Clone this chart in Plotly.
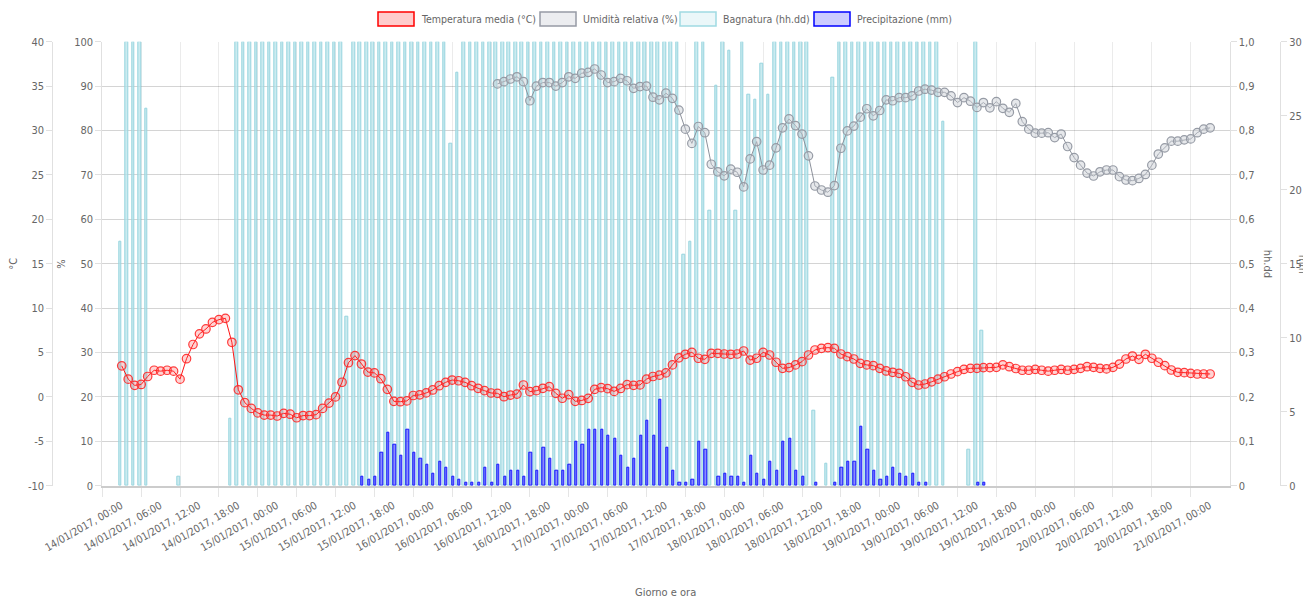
import plotly.graph_objects as go
import pandas as pd

# ---------------- data ----------------
start_time = "2017-01-14 03:00"
n_points = 169
times = pd.date_range(start_time, periods=n_points, freq="h")

tick_times = pd.date_range("2017-01-14 00:00", "2017-01-21 00:00", freq="6h")
tick_labels = [t.strftime("%d/%m/%Y, %H:%M") for t in tick_times]

temperatura = [
    3.5, 2.0, 1.3, 1.4, 2.3, 3.0, 2.9, 3.0, 2.9, 2.0,
    4.3, 5.9, 7.1, 7.65, 8.4, 8.7, 8.85, 6.15, 0.8, -0.65,
    -1.3, -1.8, -2.05, -2.05, -2.15, -1.85, -1.95, -2.35, -2.1, -2.1,
    -2.0, -1.3, -0.7, 0.0, 1.65, 3.85, 4.65, 3.7, 2.8, 2.7,
    2.05, 0.85, -0.5, -0.54, -0.45, 0.16, 0.23, 0.45, 0.78, 1.26,
    1.64, 1.9, 1.82, 1.64, 1.26, 0.97, 0.7, 0.44, 0.4, 0.02,
    0.21, 0.32, 1.34, 0.59, 0.7, 0.97, 1.15, 0.4, -0.15, 0.25,
    -0.5, -0.4, -0.16, 0.85, 1.04, 0.93, 0.62, 0.95, 1.38, 1.3,
    1.35, 2.0, 2.3, 2.45, 2.7, 3.6, 4.4, 4.8, 5.02, 4.35,
    4.23, 4.91, 4.91, 4.83, 4.8, 4.83, 5.17, 4.15, 4.35, 5.02,
    4.72, 3.9, 3.22, 3.3, 3.6, 3.97, 4.72, 5.28, 5.47, 5.55,
    5.47, 4.83, 4.53, 4.27, 3.78, 3.6, 3.52, 3.22, 2.92, 2.77,
    2.65, 2.27, 1.64, 1.34, 1.45, 1.7, 2.0, 2.27, 2.58, 2.84,
    3.1, 3.22, 3.22, 3.3, 3.3, 3.33, 3.6, 3.4, 3.2, 3.0,
    3.0, 3.1, 3.0, 2.9, 3.0, 3.1, 3.0, 3.1, 3.22, 3.4,
    3.33, 3.22, 3.15, 3.33, 3.7, 4.27, 4.6, 4.23, 4.8, 4.35,
    3.9, 3.52, 3.03, 2.77, 2.73, 2.65, 2.58, 2.58, 2.58,
]

umidita = [None] * 58 + [
    90.5, 91.0, 91.6, 92.1, 91.0, 86.7, 90.0, 90.8, 90.8, 90.0,
    90.8, 92.1, 91.75, 92.9, 93.1, 93.85, 92.5, 90.8, 91.0, 91.75,
    91.2, 89.5, 89.9, 90.0, 87.5, 86.9, 88.4, 87.25, 84.6, 80.3,
    77.1, 80.9, 79.5, 72.4, 70.7, 69.8, 71.3, 70.6, 67.3, 73.6,
    77.5, 71.1, 72.2, 76.1, 80.6, 82.6, 81.1, 79.2, 74.3, 67.5,
    66.6, 66.1, 67.6, 76.0, 79.9, 81.0, 83.0, 84.9, 83.3, 84.5,
    86.9, 86.7, 87.4, 87.4, 87.8, 88.9, 89.3, 89.1, 88.6, 88.6,
    87.8, 86.3, 87.4, 86.6, 85.2, 86.3, 85.1, 86.5, 85.0, 84.1,
    86.1, 82.0, 80.3, 79.4, 79.4, 79.5, 78.4, 79.2, 76.4, 73.9,
    72.2, 70.4, 69.75, 70.7, 71.1, 71.1, 69.6, 68.85, 68.7, 69.2,
    70.1, 72.2, 74.7, 76.1, 77.6, 77.6, 77.9, 78.1, 79.5, 80.3,
    80.6,
]

bagnatura = (
    [0.55, 1, 1, 1, 0.85]
    + [0, 0, 0, 0]
    + [0.02]
    + [0, 0, 0, 0, 0, 0, 0]
    + [0.15]
    + [1] * 17
    + [0.38]
    + [1] * 15
    + [0.77, 0.93]
    + [1] * 34
    + [0.52, 0.55, 1, 1, 0.62, 0.9, 1, 0.98, 0.62, 1, 0.88, 0.87, 0.95, 0.88]
    + [1] * 6
    + [0.17, 0, 0.05, 0.92]
    + [1] * 16
    + [0.82, 0, 0, 0, 0.08, 1, 0.35]
    + [0] * 35
)

precipitazione = (
    [0] * 37
    + [
        0.6, 0.4, 0.6, 2.2, 3.6, 2.8, 2.0, 3.8, 2.2, 1.8,
        1.4, 0.8, 1.6, 1.2, 0.6, 0.4, 0.2, 0.2, 0.2, 1.2,
        0.2, 1.4, 0.6, 1.0, 1.0, 0.6, 2.2, 1.0, 2.6, 1.8,
        1.0, 1.0, 1.4, 3.0, 2.8, 3.8, 3.8, 3.8, 3.4, 3.2,
        2.0, 1.2, 1.8, 3.4, 4.4, 3.4, 5.8, 2.6, 1.0, 0.2,
        0.2, 0.4, 3.0, 2.4, 0, 0.6, 0.8, 0.6, 0.6, 0.2,
        2.0, 0.8, 0.4, 1.6, 1.0, 3.0, 3.2, 1.0, 0.6, 0,
        0.2, 0, 0, 0.2, 1.2, 1.6, 1.6, 4.0, 2.4, 1.0,
        0.4, 0.6, 1.2, 0.8, 0.6, 0.8, 0.2, 0.2,
    ]
    + [0] * 7
    + [0.2, 0.2]
    + [0] * 35
)

temp_ticks = [-10, -5, 0, 5, 10, 15, 20, 25, 30, 35, 40]
temp_ticktext = ["-10", "-5", "0", "5", "10", "15", "20", "25", "30", "35", "40"]
bagn_ticks = [0, 0.1, 0.2, 0.3, 0.4, 0.5, 0.6, 0.7, 0.8, 0.9, 1.0]
bagn_ticktext = ["0", "0,1", "0,2", "0,3", "0,4", "0,5", "0,6", "0,7", "0,8", "0,9", "1,0"]

legend_labels = ["Temperatura media (°C)", "Umidità relativa (%)", "Bagnatura (hh.dd)", "Precipitazione (mm)"]

# ---------------- layout helpers ----------------
# page body has an 8px margin: figure is drawn at (8, 8) in the window
OFF = 8
W, H = 1311 - OFF, 600 - OFF
def px(x):
    return (x - OFF) / W
def py(y):
    return 1 - (y - OFF) / H

X0, X1 = 102.3, 1229.6
YT, YB = 41.7, 485.7
FONT = "Liberation Sans Narrow, Arial Narrow, DejaVu Sans Condensed, Liberation Sans, sans-serif"
TXT = "#666666"
GRID = "rgba(0,0,0,0.17)"
VGRID = "rgba(0,0,0,0.08)"
HOUR = 3600000
LABEL_SHIFT = 2.9 * HOUR

def nz(values):
    return [v if v else None for v in values]

fig = go.Figure()

fig.add_trace(go.Bar(
    x=times, y=nz(bagnatura), yaxis="y", name=legend_labels[2],
    width=0.40 * HOUR, offset=-0.42 * HOUR,
    marker=dict(color="rgba(185,228,235,0.75)", line=dict(color="rgba(150,212,222,1)", width=1)),
    showlegend=False,
))
fig.add_trace(go.Bar(
    x=times, y=nz(precipitazione), yaxis="y2", name=legend_labels[3],
    width=0.34 * HOUR, offset=-0.02 * HOUR,
    marker=dict(color="rgba(60,60,255,0.6)", line=dict(color="rgb(20,20,255)", width=1)),
    showlegend=False,
))
fig.add_trace(go.Scatter(
    x=times, y=umidita, yaxis="y3", name=legend_labels[1], mode="lines+markers",
    line=dict(color="rgba(140,145,155,1)", width=1),
    marker=dict(size=8.5, color="rgba(200,203,210,0.45)", line=dict(color="rgba(150,155,165,1)", width=1.2)),
    showlegend=False, connectgaps=False,
))
fig.add_trace(go.Scatter(
    x=times, y=temperatura, yaxis="y4", name=legend_labels[0], mode="lines+markers",
    line=dict(color="rgba(255,20,20,1)", width=1),
    marker=dict(size=8.5, color="rgba(255,80,80,0.25)", line=dict(color="rgba(255,40,40,0.9)", width=1.2)),
    showlegend=False,
))
# carrier for the label axis (draws nothing)
fig.add_trace(go.Scatter(x=[tick_times[0]], y=[None], xaxis="x2", yaxis="y",
                         showlegend=False, hoverinfo="skip", mode="markers"))

axis_common = dict(
    tickfont=dict(family=FONT, size=11, color=TXT),
    ticks="outside", ticklen=6, tickcolor="rgba(0,0,0,0.12)",
    showline=True, linecolor="rgba(0,0,0,0.12)", linewidth=1,
    zeroline=False, fixedrange=True, automargin=False,
)

x_range = ["2017-01-14 00:00", "2017-01-21 06:00"]

fig.update_layout(
    width=W, height=H,
    margin=dict(l=0, r=0, t=0, b=0),
    paper_bgcolor="white", plot_bgcolor="white",
    font=dict(family=FONT, size=11, color=TXT),
    showlegend=False,
    bargap=0,
    xaxis=dict(
        domain=[px(X0), px(X1)], type="date", range=x_range,
        tickvals=tick_times, showticklabels=False,
        showgrid=True, gridcolor=VGRID, gridwidth=1,
        ticks="outside", ticklen=9, tickcolor="rgba(0,0,0,0.1)",
        showline=True, linecolor="rgba(0,0,0,0.2)", linewidth=2,
        zeroline=False, anchor="y", fixedrange=True, automargin=False,
    ),
    xaxis2=dict(
        overlaying="x", anchor="y", side="bottom", type="date", range=x_range,
        tickvals=[t + pd.Timedelta(milliseconds=LABEL_SHIFT) for t in tick_times],
        ticktext=tick_labels, tickangle=-30,
        tickfont=dict(family=FONT, size=10.5, color=TXT),
        showgrid=False, showline=False, zeroline=False,
        ticks="outside", ticklen=9, tickcolor="rgba(0,0,0,0)",
        fixedrange=True, automargin=False,
    ),
    yaxis=dict(
        domain=[py(YB), py(YT)], range=[0, 1], side="right", anchor="x",
        tickvals=bagn_ticks, ticktext=bagn_ticktext,
        showgrid=True, gridcolor=GRID, gridwidth=1,
        **axis_common,
    ),
    yaxis2=dict(
        overlaying="y", side="right", anchor="free", position=px(1280),
        range=[0, 30], tickvals=[0, 5, 10, 15, 20, 25, 30],
        showgrid=False, **axis_common,
    ),
    yaxis3=dict(
        overlaying="y", side="left", anchor="x",
        range=[0, 100], tickvals=[0, 10, 20, 30, 40, 50, 60, 70, 80, 90, 100],
        showgrid=False, **axis_common,
    ),
    yaxis4=dict(
        overlaying="y", side="left", anchor="free", position=px(52.3),
        range=[-10, 40], tickvals=temp_ticks, ticktext=temp_ticktext,
        showgrid=False, **axis_common,
    ),
)

# axis titles
ymid = py((YT + YB) / 2)
for text, xpos, ang in [("°C", 14, -90), ("%", 62, -90), ("hh.dd", 1267, 90), ("mm", 1302, 90)]:
    fig.add_annotation(x=px(xpos), y=ymid, xref="paper", yref="paper", text=text,
                       textangle=ang, showarrow=False, xanchor="center", yanchor="middle",
                       font=dict(family=FONT, size=11, color=TXT))
fig.add_annotation(x=px((X0 + X1) / 2), y=py(592), xref="paper", yref="paper", text="Giorno e ora",
                   showarrow=False, xanchor="center", yanchor="middle",
                   font=dict(family=FONT, size=11, color=TXT))

# custom legend (boxes + labels)
legend_items = [
    (378, legend_labels[0], "rgba(255,0,0,0.2)", "rgb(255,0,0)"),
    (540, legend_labels[1], "rgba(180,185,195,0.25)", "rgb(150,155,165)"),
    (680, legend_labels[2], "rgba(176,224,230,0.25)", "rgb(160,218,226)"),
    (814, legend_labels[3], "rgba(0,0,255,0.2)", "rgb(0,0,255)"),
]
for lx, lab, fill, edge in legend_items:
    fig.add_shape(type="rect", xref="paper", yref="paper",
                  x0=px(lx), x1=px(lx + 36), y0=py(26), y1=py(12),
                  fillcolor=fill, line=dict(color=edge, width=1.5))
    fig.add_annotation(x=px(lx + 41), y=py(19), xref="paper", yref="paper", text=lab,
                       showarrow=False, xanchor="left", yanchor="middle",
                       font=dict(family=FONT, size=10.5, color=TXT))

fig.write_html("out.html")
